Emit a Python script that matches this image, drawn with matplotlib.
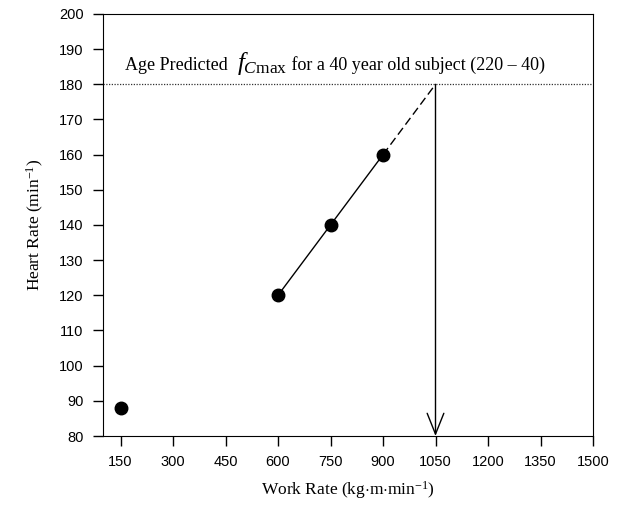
import matplotlib
matplotlib.use("Agg")
import matplotlib.pyplot as plt

# data
work_rate = [150, 600, 750, 900]
heart_rate = [88, 120, 140, 160]
fit_x = [600, 750, 900]
fit_y = [120, 140, 160]
extrap_x = [900, 1050]
extrap_y = [160, 180]
hr_max = 180
wr_at_max = 1050
xticks = [150, 300, 450, 600, 750, 900, 1050, 1200, 1350, 1500]
yticks = list(range(80, 201, 10))

serif = "Liberation Serif"
sans = "Liberation Sans"
plt.rcParams["mathtext.fontset"] = "custom"
plt.rcParams["mathtext.rm"] = serif
plt.rcParams["mathtext.it"] = serif + ":italic"

fig = plt.figure(figsize=(6.27, 5.07), dpi=100)
ax = fig.add_axes([103/627, 1 - 436/507, 490/627, 422/507])

ax.axhline(hr_max, color="#333333", lw=0.9, ls=(0, (1, 1.2)))
ax.plot(fit_x, fit_y, color="black", lw=1)
ax.plot(extrap_x, extrap_y, color="black", lw=1, ls=(0, (6, 3)))
ax.plot(work_rate, heart_rate, "o", color="black", ms=9, zorder=5)

# arrow down to the x axis
ax.annotate("", xy=(wr_at_max, 80), xytext=(wr_at_max, hr_max),
            arrowprops=dict(arrowstyle="->,head_length=1.5,head_width=0.6",
                            color="black", lw=1, shrinkA=0, shrinkB=0))

# annotation text in three parts so the f symbol can be bigger
base_y = 184.2
t1 = ax.text(163, base_y, "Age Predicted  ", fontsize=13, family=serif, va="baseline")
t2 = ax.annotate(r"$f_{C\mathrm{max}}$", xy=(1, base_y), xycoords=(t1, "data"),
                 fontsize=18, family=serif, va="baseline")
t3 = ax.annotate(" for a 40 year old subject (220 – 40)", xy=(1, base_y), xycoords=(t2, "data"),
                 fontsize=13, family=serif, va="baseline")

ax.set_xlim(100, 1500)
ax.set_ylim(80, 200)
ax.set_xticks(xticks)
ax.set_yticks(yticks)
ax.tick_params(direction="out", length=7, width=1, labelsize=10.5)
ax.tick_params(axis="x", pad=7)
ax.tick_params(axis="y", pad=7)
for lab in ax.get_xticklabels() + ax.get_yticklabels():
    lab.set_family(sans)

ax.set_xlabel(r"Work Rate (kg$\cdot$m$\cdot$min$^{\mathrm{-1}}$)", fontsize=12.5, family=serif, labelpad=7)
ax.set_ylabel(r"Heart Rate (min$^{\mathrm{-1}}$)", fontsize=12.5, family=serif, labelpad=9)

fig.savefig("out.png", dpi=100)
